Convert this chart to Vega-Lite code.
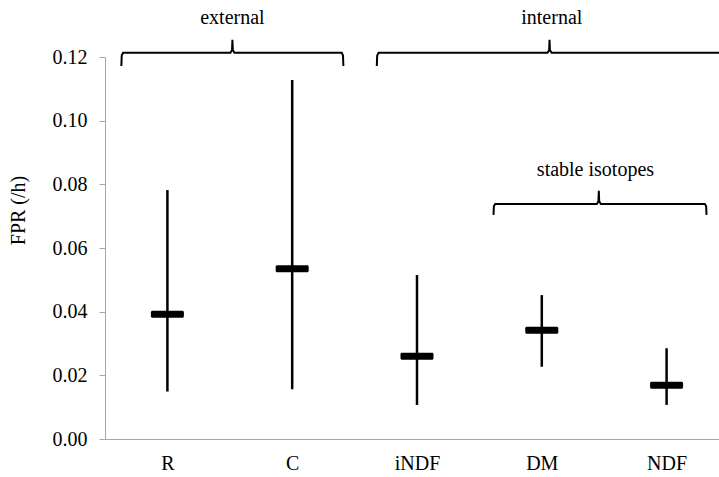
{
  "$schema": "https://vega.github.io/schema/vega-lite/v6.json",
  "autosize": {"type": "none"},
  "padding": {"left": 105, "top": 57, "right": 0, "bottom": 38},
  "width": 614,
  "height": 382,
  "background": "white",
  "config": {
    "view": {"stroke": null},
    "font": "Liberation Serif",
    "axis": {"labelFont": "Liberation Serif", "titleFont": "Liberation Serif", "labelFontSize": 20, "titleFontSize": 20, "labelColor": "black", "titleColor": "black", "titleFontWeight": "normal", "grid": false, "domainColor": "#a6a6a6", "tickColor": "#a6a6a6"}
  },
  "datasets": {
    "stats": [
      {"pos": 1, "cat": "R", "low": 0.0149, "high": 0.0782, "mean": 0.0392},
      {"pos": 2, "cat": "C", "low": 0.0156, "high": 0.1128, "mean": 0.0535},
      {"pos": 3, "cat": "iNDF", "low": 0.0107, "high": 0.0515, "mean": 0.026},
      {"pos": 4, "cat": "DM", "low": 0.0227, "high": 0.0452, "mean": 0.0342},
      {"pos": 5, "cat": "NDF", "low": 0.0107, "high": 0.0285, "mean": 0.0169}
    ],
    "braces": [
      {"brace": "external", "o": 1, "bx": 0.631, "by": 0.1172},
      {"brace": "external", "o": 2, "bx": 0.634, "by": 0.1205},
      {"brace": "external", "o": 3, "bx": 0.645, "by": 0.1213},
      {"brace": "external", "o": 4, "bx": 1.505, "by": 0.1213},
      {"brace": "external", "o": 5, "bx": 1.518, "by": 0.1222},
      {"brace": "external", "o": 6, "bx": 1.521, "by": 0.1254},
      {"brace": "external", "o": 7, "bx": 1.524, "by": 0.1222},
      {"brace": "external", "o": 8, "bx": 1.537, "by": 0.1213},
      {"brace": "external", "o": 9, "bx": 2.397, "by": 0.1213},
      {"brace": "external", "o": 10, "bx": 2.407, "by": 0.1205},
      {"brace": "external", "o": 11, "bx": 2.41, "by": 0.1172},
      {"brace": "internal", "o": 1, "bx": 2.678, "by": 0.1172},
      {"brace": "internal", "o": 2, "bx": 2.681, "by": 0.1205},
      {"brace": "internal", "o": 3, "bx": 2.692, "by": 0.1213},
      {"brace": "internal", "o": 4, "bx": 4.046, "by": 0.1213},
      {"brace": "internal", "o": 5, "bx": 4.059, "by": 0.1222},
      {"brace": "internal", "o": 6, "bx": 4.062, "by": 0.1254},
      {"brace": "internal", "o": 7, "bx": 4.065, "by": 0.1222},
      {"brace": "internal", "o": 8, "bx": 4.078, "by": 0.1213},
      {"brace": "internal", "o": 9, "bx": 5.437, "by": 0.1213},
      {"brace": "internal", "o": 10, "bx": 5.447, "by": 0.1205},
      {"brace": "internal", "o": 11, "bx": 5.45, "by": 0.1172},
      {"brace": "stable", "o": 1, "bx": 3.613, "by": 0.0704},
      {"brace": "stable", "o": 2, "bx": 3.616, "by": 0.0731},
      {"brace": "stable", "o": 3, "bx": 3.627, "by": 0.0738},
      {"brace": "stable", "o": 4, "bx": 4.441, "by": 0.0738},
      {"brace": "stable", "o": 5, "bx": 4.454, "by": 0.0747},
      {"brace": "stable", "o": 6, "bx": 4.457, "by": 0.078},
      {"brace": "stable", "o": 7, "bx": 4.46, "by": 0.0747},
      {"brace": "stable", "o": 8, "bx": 4.473, "by": 0.0738},
      {"brace": "stable", "o": 9, "bx": 5.307, "by": 0.0738},
      {"brace": "stable", "o": 10, "bx": 5.317, "by": 0.0731},
      {"brace": "stable", "o": 11, "bx": 5.32, "by": 0.0704}
    ],
    "labels": [
      {"label": "external", "lx": 1.521, "ly": 0.1323},
      {"label": "internal", "lx": 4.08, "ly": 0.1323},
      {"label": "stable isotopes", "lx": 4.43, "ly": 0.0845}
    ]
  },
  "layer": [
    {
      "data": {"name": "stats"},
      "mark": {"type": "rule", "color": "black", "strokeWidth": 2.5},
      "encoding": {
        "x": {"field": "pos", "type": "quantitative", "scale": {"domain": [0.5, 5.42], "nice": false, "zero": false},
              "axis": {"title": null, "values": [1, 2, 3, 4, 5], "ticks": false, "labelExpr": "['','R','C','iNDF','DM','NDF'][datum.value]", "labelPadding": 14}},
        "y": {"field": "low", "type": "quantitative", "scale": {"domain": [0, 0.12], "nice": false},
              "axis": {"title": "FPR (/h)", "values": [0, 0.02, 0.04, 0.06, 0.08, 0.1, 0.12], "format": ".2f", "tickSize": 6, "labelPadding": 12, "titleX": -87, "titleY": 153, "titleBaseline": "middle", "titleAlign": "center"}},
        "y2": {"field": "high"}
      }
    },
    {
      "data": {"name": "stats"},
      "mark": {"type": "tick", "orient": "horizontal", "color": "black", "size": 33, "thickness": 7, "opacity": 1, "cornerRadius": 1.5},
      "encoding": {
        "x": {"field": "pos", "type": "quantitative"},
        "y": {"field": "mean", "type": "quantitative"}
      }
    },
    {
      "data": {"name": "braces"},
      "mark": {"type": "line", "color": "black", "strokeWidth": 2, "clip": false, "interpolate": "linear"},
      "encoding": {
        "x": {"field": "bx", "type": "quantitative"},
        "y": {"field": "by", "type": "quantitative"},
        "detail": {"field": "brace"},
        "order": {"field": "o", "type": "quantitative"}
      }
    },
    {
      "data": {"name": "labels"},
      "mark": {"type": "text", "font": "Liberation Serif", "fontSize": 20, "color": "black", "baseline": "middle", "align": "center", "clip": false},
      "encoding": {
        "x": {"field": "lx", "type": "quantitative"},
        "y": {"field": "ly", "type": "quantitative"},
        "text": {"field": "label"}
      }
    }
  ]
}
